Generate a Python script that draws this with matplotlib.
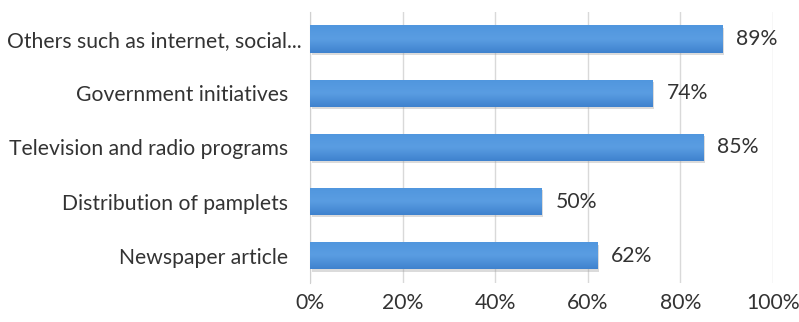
import matplotlib.pyplot as plt
import numpy as np
from matplotlib.colors import LinearSegmentedColormap
from matplotlib.transforms import ScaledTranslation

plt.rcParams["font.family"] = ["Lato", "DejaVu Sans"]

categories = [
    "Newspaper article",
    "Distribution of pamplets",
    "Television and radio programs",
    "Government initiatives",
    "Others such as internet, social...",
]
values = [62, 50, 85, 74, 89]
ticks = [0, 20, 40, 60, 80, 100]

fig = plt.figure(figsize=(7.99, 3.22), dpi=100)
ax = fig.add_axes([0.388, 0.121, 0.5795, 0.842])

y = np.arange(len(categories))
height = 0.5

# soft drop shadow under each bar
ax.barh(y - 0.04, values, height=height, left=0.4, color="#9a9a9a",
        alpha=0.35, zorder=2)
bars = ax.barh(y, values, height=height, color="#4a8fda", zorder=3)

# vertical gradient: lighter at the top of the bar, darker at the bottom
cmap = LinearSegmentedColormap.from_list("bar", ["#3f82ce", "#5a9de2", "#5096de"])
grad = np.linspace(0, 1, 64).reshape(-1, 1)
for b in bars:
    x0, y0 = b.get_x(), b.get_y()
    im = ax.imshow(grad, cmap=cmap, aspect="auto", origin="lower",
                   extent=[x0, x0 + b.get_width(), y0, y0 + b.get_height()],
                   zorder=4)
    im.set_clip_path(b)

for yi, v in zip(y, values):
    ax.text(v + 3.0, yi, f"{v}%", va="center", ha="left", fontsize=15.2,
            color="#333333")

ax.set_xlim(0, 100)
ax.set_ylim(-0.5, 4.5)
ax.set_xticks(ticks)
ax.set_xticklabels([f"{t}%" for t in ticks])
ax.set_yticks(y)
ax.set_yticklabels(categories)
ax.tick_params(axis="both", length=0, labelsize=15.2, colors="#333333")
ax.tick_params(axis="y", pad=16)
ax.tick_params(axis="x", pad=7)

# the truncated label sits closer to the axis
last = ax.get_yticklabels()[-1]
last.set_transform(last.get_transform() + ScaledTranslation(14 / 100, 0, fig.dpi_scale_trans))

ax.grid(axis="x", color="#d9d9d9", linewidth=1.0, zorder=0)
ax.set_axisbelow(True)
for side in ["top", "right", "bottom"]:
    ax.spines[side].set_visible(False)
ax.spines["left"].set_color("#d0d0d0")

fig.savefig("out.png", dpi=100)
